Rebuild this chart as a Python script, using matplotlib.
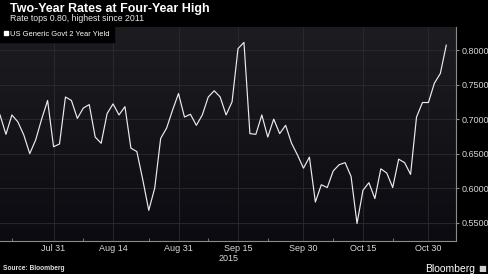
import numpy as np
import pandas as pd
import matplotlib
matplotlib.use("Agg")
from matplotlib import pyplot as plt
from matplotlib.colors import LinearSegmentedColormap
from matplotlib.lines import Line2D

# US generic govt 2 year yield, daily closes (bond market trading days)
dates = pd.bdate_range("2015-07-20", "2015-11-04").drop(
    pd.to_datetime(["2015-09-07", "2015-10-12"]))
yields = [0.706, 0.678, 0.706, 0.696, 0.677, 0.650, 0.670, 0.700, 0.727, 0.660,
          0.664, 0.732, 0.727, 0.701, 0.716, 0.721, 0.674, 0.665, 0.708, 0.722,
          0.706, 0.718, 0.658, 0.653, 0.612, 0.568, 0.600, 0.672, 0.687, 0.713,
          0.737, 0.703, 0.707, 0.691, 0.706, 0.732, 0.741, 0.732, 0.706, 0.725,
          0.802, 0.811, 0.679, 0.678, 0.706, 0.674, 0.700, 0.679, 0.691, 0.665,
          0.648, 0.629, 0.645, 0.580, 0.605, 0.601, 0.625, 0.634, 0.637, 0.617,
          0.549, 0.597, 0.608, 0.585, 0.628, 0.622, 0.601, 0.642, 0.637, 0.620,
          0.703, 0.724, 0.724, 0.752, 0.766, 0.807]

tick_dates = ["2015-07-31", "2015-08-14", "2015-08-31", "2015-09-15",
              "2015-09-30", "2015-10-15", "2015-10-30"]
tick_labels = ["Jul 31", "Aug 14", "Aug 31", "Sep 15", "Sep 30", "Oct 15", "Oct 30"]
minor_dates = ["2015-07-22", "2015-08-07", "2015-08-24", "2015-09-08",
               "2015-09-22", "2015-10-07", "2015-10-22"]
y_ticks = [0.55, 0.60, 0.65, 0.70, 0.75, 0.80]

plt.rcParams["font.family"] = ["Liberation Sans", "DejaVu Sans"]

x = np.arange(len(yields))
pos = {d: i for i, d in enumerate(dates)}
major = [pos[pd.Timestamp(d)] for d in tick_dates]
minor = [pos[pd.Timestamp(d)] for d in minor_dates]

fig = plt.figure(figsize=(4.88, 2.74), dpi=100, facecolor="black")
ax = fig.add_axes([0.0, 0.1204, 0.934, 0.7811])

# dark gradient background
bg = LinearSegmentedColormap.from_list("bg", ["#0b0b11", "#1d1d21"])
ax.imshow(np.linspace(0, 1, 256).reshape(-1, 1), extent=[0, 1, 0, 1],
          transform=ax.transAxes, aspect="auto", cmap=bg, origin="lower", zorder=0)

ax.plot(x, yields, color="#ececec", lw=0.85, zorder=3)

ax.set_xlim(0, 76.6)
ax.set_ylim(0.5236, 0.8333)

ax.set_xticks(major)
ax.set_xticklabels(tick_labels)
ax.set_xticks(minor, minor=True)
ax.set_yticks(y_ticks)
ax.set_yticklabels([f"{v:.4f}" for v in y_ticks])
ax.yaxis.tick_right()

ax.grid(True, which="major", color="#2c2c30", lw=0.6, zorder=1)
ax.tick_params(axis="x", which="major", colors="#8a8a8a", labelcolor="#d8d8d8",
               labelsize=6.5, length=0, pad=2.5)
ax.tick_params(axis="x", which="minor", colors="#8a8a8a", length=2, direction="in")
ax.tick_params(axis="y", colors="#8a8a8a", labelcolor="#d8d8d8",
               labelsize=6.5, length=2.5, pad=1.5)

for s in ["top", "left"]:
    ax.spines[s].set_visible(False)
for s in ["right", "bottom"]:
    ax.spines[s].set_color("#8a8a8a")
    ax.spines[s].set_linewidth(0.8)

ax.text(pos[pd.Timestamp("2015-09-15")] + 0.1, -0.062, "2015", transform=ax.get_xaxis_transform(),
        ha="right", va="top", color="#d8d8d8", fontsize=6.5)

handle = Line2D([], [], marker="s", color="white", linestyle="none", markersize=3.5)
leg = ax.legend([handle], ["US Generic Govt 2 Year Yield"], loc="upper left",
                bbox_to_anchor=(0, 1), borderaxespad=0, frameon=True, fancybox=False,
                facecolor="black", edgecolor="black", framealpha=1, fontsize=5.4,
                labelcolor="white", handlelength=0.6, handletextpad=0.3,
                borderpad=0.5)
leg.set_zorder(5)

fig.text(10 / 488, 1 - 12.2 / 274, "Two-Year Rates at Four-Year High", color="white",
         fontsize=9, fontweight="bold", ha="left", va="baseline")
fig.text(10 / 488, 1 - 21.4 / 274, "Rate tops 0.80, highest since 2011", color="#e6e6e6",
         fontsize=6.3, ha="left", va="baseline")
fig.text(3 / 488, 1 - 270.5 / 274, "Source: Bloomberg", color="#e0e0e0",
         fontsize=4.8, fontweight="bold", ha="left", va="baseline")
fig.text(475 / 488, 1 - 271.5 / 274, "Bloomberg", color="white",
         fontsize=7.5, ha="right", va="baseline")
fig.text(486 / 488, 1 - 271.5 / 274, "\u25a0", color="#cfcfcf",
         fontsize=6, ha="right", va="baseline", family=["DejaVu Sans"])

fig.savefig("out.png", dpi=100, facecolor="black")
